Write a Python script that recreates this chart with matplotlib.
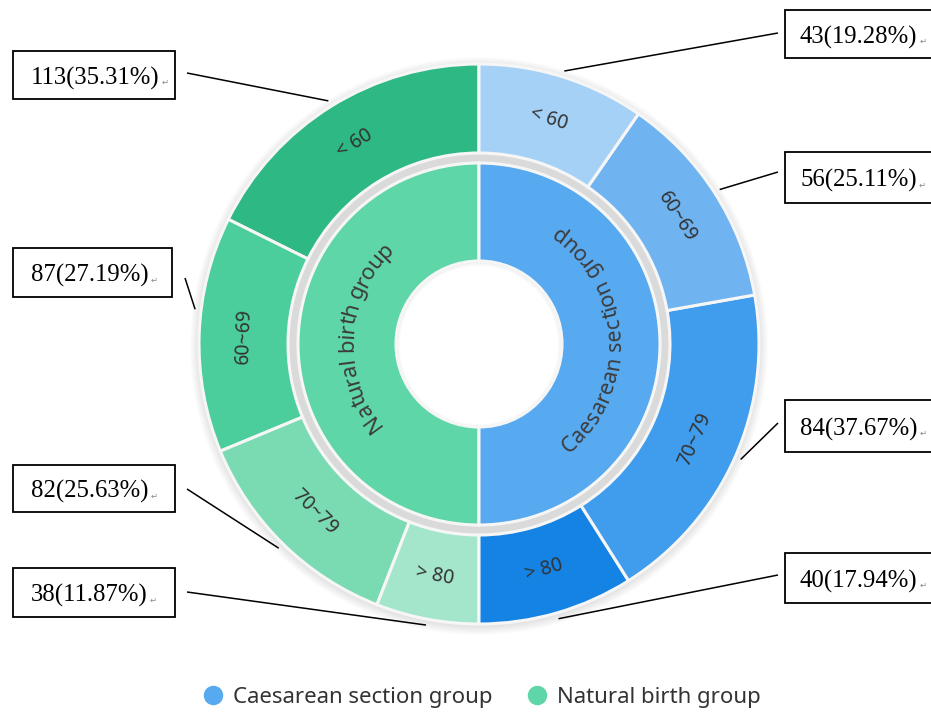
import numpy as np
import matplotlib
matplotlib.use("Agg")
import matplotlib.pyplot as plt
from matplotlib.patches import Wedge, Rectangle
from matplotlib.lines import Line2D
from matplotlib.font_manager import FontProperties, findfont, get_font

# age distribution of the two delivery groups
groups = ["Natural birth group", "Caesarean section group"]
age_bands = ["< 60", "60~69", "70~79", "> 80"]
natural_counts = [113, 87, 82, 38]
natural_pct = [35.31, 27.19, 25.63, 11.87]
caesarean_counts = [43, 56, 84, 40]
caesarean_pct = [19.28, 25.11, 37.67, 17.94]

natural_inner = "#5fd6a8"
caesarean_inner = "#58aaf0"
natural_colors = ["#2db884", "#4bce9b", "#7adbb2", "#a4e6cb"]
caesarean_colors = ["#a5d1f7", "#6fb3f0", "#409cec", "#1583e4"]

FONT = "Noto Sans"
W, H = 931, 713
CX, CY = 479, H - 344
R_OUT, R_OUT_IN = 280, 191
R_IN, R_HOLE = 181, 83
EDGE = "#f6f6f6"

fig = plt.figure(figsize=(W / 100, H / 100), dpi=100)
ax = fig.add_axes([0, 0, 1, 1])

# soft shadow round the donut and the grey band between the rings
for k in range(1, 10):
    ax.add_patch(Wedge((CX, CY - 2), R_OUT + k, 0, 360, width=k + 4,
                       color="black", alpha=0.012, lw=0, zorder=0))
for k in range(1, 5):
    ax.add_patch(Wedge((CX, CY - 1), R_HOLE + 2, 0, 360, width=k + 2,
                       color="black", alpha=0.015, lw=0, zorder=0))
ax.add_patch(Wedge((CX, CY), R_OUT_IN + 1, 0, 360, width=R_OUT_IN - R_IN + 2,
                   color="#dbdada", lw=0, zorder=1))

# outer ring: natural counter-clockwise from the top, caesarean back up the right side
nat_frac = [c / sum(natural_counts) / 2 for c in natural_counts]
cae_frac = [c / sum(caesarean_counts) / 2 for c in caesarean_counts]
outer_frac = nat_frac + cae_frac[::-1]
outer_cols = natural_colors + caesarean_colors[::-1]
outer_wedges, _ = ax.pie(outer_frac, radius=R_OUT, center=(CX, CY), startangle=90,
                         counterclock=True, normalize=False, colors=outer_cols,
                         wedgeprops=dict(width=R_OUT - R_OUT_IN, edgecolor=EDGE, linewidth=2.2))
inner_wedges, _ = ax.pie([0.5, 0.5], radius=R_IN, center=(CX, CY), startangle=90,
                         counterclock=True, normalize=False,
                         colors=[natural_inner, caesarean_inner],
                         wedgeprops=dict(width=R_IN - R_HOLE, edgecolor=EDGE, linewidth=2.2))
for w in outer_wedges + inner_wedges:
    w.set_zorder(2)

ax.set_xlim(0, W)
ax.set_ylim(0, H)
ax.set_aspect("equal")
ax.axis("off")

# tangential labels in the outer ring
outer_labels = age_bands + age_bands[::-1]
r_lab = (R_OUT + R_OUT_IN) / 2
for w, lab in zip(outer_wedges, outer_labels):
    mid = (w.theta1 + w.theta2) / 2
    rot = mid - 90
    while rot > 90:
        rot -= 180
    while rot < -90:
        rot += 180
    a = np.radians(mid)
    ax.text(CX + r_lab * np.cos(a), CY + r_lab * np.sin(a), lab, rotation=rot,
            rotation_mode="anchor", ha="center", va="center", fontsize=14,
            family=FONT, color="#333333", zorder=3)


def arc_text(text, radius, mid_deg, clockwise, size, color):
    """Lay text out character by character along a circular arc."""
    font = get_font(findfont(FontProperties(family=FONT)))
    font.set_size(size, 72)
    adv = []
    for ch in text:
        g = font.load_char(ord(ch))
        adv.append(g.linearHoriAdvance / 65536 * 100 / 72)
    adv = np.array(adv)
    total = adv.sum()
    centres = np.cumsum(adv) - adv / 2
    span = total / radius
    cap = 0.36 * size * 100 / 72
    for ch, s in zip(text, centres):
        if clockwise:
            ang = np.radians(mid_deg) + span / 2 - s / radius
            rot = np.degrees(ang) - 90
            rb = radius - cap
        else:
            ang = np.radians(mid_deg) - span / 2 + s / radius
            rot = np.degrees(ang) + 90
            rb = radius + cap
        ax.text(CX + rb * np.cos(ang), CY + rb * np.sin(ang), ch, rotation=rot,
                rotation_mode="anchor", ha="center", va="baseline", fontsize=size,
                family=FONT, color=color, zorder=3)


r_arc = (R_IN + R_HOLE) / 2 + 2
arc_text(groups[0], r_arc, 176, True, 16, "#3c3c3c")
arc_text(groups[1], r_arc, 3, False, 15.5, "#3c3c3c")

# boxed value labels with leader lines (pixel layout, y measured from top)
left_boxes = [(13, 51, 175, 99), (13, 248, 172, 297), (13, 465, 175, 512), (13, 568, 175, 617)]
left_starts = [(187, 73), (185, 278), (187, 489), (187, 592)]
right_boxes = [(785, 10, 933, 58), (785, 152, 933, 203), (785, 400, 933, 452), (785, 553, 933, 603)]
right_starts = [(778, 33), (778, 172), (778, 423), (778, 575)]
anchor_shift = [0, -5, 0, 0, 0, 0, 0, 0]
text_pad = [18, 18, 18, 18, 15, 15, 15, 15]

nat_w = outer_wedges[:4]
cae_w = outer_wedges[4:][::-1]
entries = []
for i in range(4):
    entries.append((nat_w[i], natural_counts[i], natural_pct[i], left_boxes[i], left_starts[i], anchor_shift[i], text_pad[i]))
for i in range(4):
    entries.append((cae_w[i], caesarean_counts[i], caesarean_pct[i], right_boxes[i], right_starts[i], anchor_shift[4 + i], text_pad[4 + i]))

for w, cnt, pct, box, start, shift, pad in entries:
    mid = np.radians((w.theta1 + w.theta2) / 2 + shift)
    ex, ey = CX + (R_OUT + 6) * np.cos(mid), CY + (R_OUT + 6) * np.sin(mid)
    ax.plot([start[0], ex], [H - start[1], ey], color="black", lw=1.1, zorder=4,
            solid_capstyle="butt")
    x0, y0, x1, y1 = box
    ax.add_patch(Rectangle((x0, H - y1), x1 - x0, y1 - y0, facecolor="white",
                           edgecolor="black", lw=1.3, zorder=4))
    t = ax.text(x0 + pad, H - (y0 + y1) / 2 - 3, f"{cnt}({pct:.2f}%)", ha="left",
                va="center", fontsize=17.8, family="Liberation Serif", color="black", zorder=5)
    ax.annotate("\u21b5", xy=(1, 0.12), xycoords=t, xytext=(1.5, 0),
                textcoords="offset points", ha="left", va="bottom", fontsize=6,
                family="DejaVu Sans", color="#888888", zorder=5)

handles = [
    Line2D([], [], ls="", marker="o", markersize=13, markerfacecolor=caesarean_inner,
           markeredgecolor=caesarean_inner, label=groups[1]),
    Line2D([], [], ls="", marker="o", markersize=13, markerfacecolor=natural_inner,
           markeredgecolor=natural_inner, label=groups[0]),
]
ax.legend(handles=handles, loc="center", bbox_to_anchor=(481 / W, 16 / H), ncol=2,
          frameon=False, handlelength=1.0, handletextpad=0.4, columnspacing=1.5,
          prop=FontProperties(family=FONT, size=16), labelcolor="#333333")

fig.savefig("out.png", dpi=100)
